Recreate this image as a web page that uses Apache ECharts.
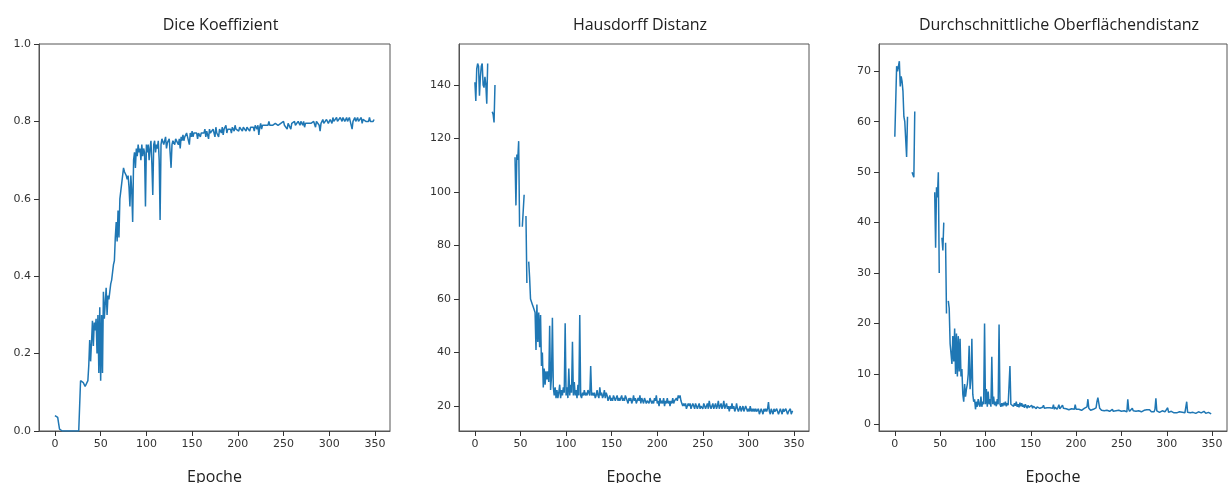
<!DOCTYPE html>
<html>
<head>
<meta charset="utf-8">
<script src="https://cdn.jsdelivr.net/npm/echarts@6/dist/echarts.min.js"></script>
<style>
html,body{margin:0;padding:0;background:#fff;}
#chart{width:1228px;height:483px;}
</style>
</head>
<body>
<div id="chart"></div>
<script>
const titles = ["Dice Koeffizient", "Hausdorff Distanz", "Durchschnittliche Oberflächendistanz"];
const xAxisName = "Epoche";
const xTicks = [0, 50, 100, 150, 200, 250, 300, 350];
const diceTicks = [0, 0.2, 0.4, 0.6, 0.8, 1.0];
const hdTicks = [20, 40, 60, 80, 100, 120, 140];
const asdTicks = [0, 10, 20, 30, 40, 50, 60, 70];

const dice = [
0.04,0.04,0.039,0.035,0.02,0.005,0,0,0,0,
0,0,0,0,0,0,0,0,0,0,
0,0,0,0,0,0,0,0,0.13,0.135,
0.13,0.125,0.12,0.115,0.12,0.112,0.13,0.17,0.235,0.18,
0.23,0.285,0.22,0.28,0.26,0.29,0.2,0.3,0.15,0.32,
0.13,0.3,0.15,0.36,0.29,0.33,0.37,0.3,0.35,0.34,
0.36,0.38,0.39,0.41,0.43,0.44,0.5,0.54,0.49,0.57,
0.5,0.6,0.62,0.64,0.66,0.68,0.67,0.665,0.66,0.65,
0.66,0.63,0.58,0.66,0.62,0.54,0.7,0.72,0.68,0.73,
0.71,0.74,0.72,0.73,0.7,0.74,0.71,0.73,0.72,0.58,
0.74,0.72,0.74,0.7,0.73,0.75,0.69,0.61,0.74,0.75,
0.72,0.74,0.73,0.75,0.7,0.545,0.74,0.755,0.76,0.74,
0.75,0.76,0.73,0.745,0.74,0.755,0.75,0.68,0.74,0.75,
0.745,0.74,0.755,0.75,0.76,0.74,0.755,0.73,0.76,0.75,
0.765,0.75,0.76,0.755,0.77,0.76,0.765,0.74,0.77,0.76,
0.775,0.76,0.77,0.765,0.775,0.77,0.755,0.77,0.775,0.76,
0.77,0.775,0.765,0.77,0.78,0.76,0.775,0.77,0.755,0.78,
0.77,0.765,0.775,0.78,0.77,0.76,0.785,0.77,0.775,0.76,
0.78,0.775,0.77,0.785,0.765,0.78,0.775,0.79,0.77,0.78,
0.775,0.785,0.78,0.77,0.785,0.78,0.775,0.79,0.78,0.785,
0.78,0.775,0.785,0.79,0.78,0.775,0.785,0.78,0.79,0.775,
0.785,0.78,0.79,0.775,0.785,0.79,0.78,0.785,0.775,0.79,
0.785,0.78,0.79,0.765,0.785,0.795,0.78,0.79,0.785,0.795,
0.79,0.785,0.795,0.79,0.8,0.79,0.795,0.785,0.79,0.795,
0.79,0.795,0.79,0.8,0.79,0.795,0.785,0.795,0.79,0.795,
0.8,0.79,0.795,0.79,0.78,0.795,0.79,0.8,0.78,0.795,
0.79,0.795,0.8,0.79,0.795,0.785,0.8,0.795,0.79,0.8,
0.795,0.79,0.8,0.785,0.795,0.8,0.79,0.795,0.8,0.79,
0.795,0.8,0.79,0.8,0.795,0.785,0.8,0.795,0.805,0.79,
0.775,0.795,0.8,0.805,0.795,0.8,0.79,0.805,0.8,0.795,
0.8,0.805,0.8,0.795,0.81,0.8,0.805,0.8,0.81,0.8,
0.805,0.8,0.81,0.805,0.8,0.81,0.805,0.8,0.805,0.81,
0.8,0.805,0.81,0.8,0.805,0.78,0.8,0.805,0.81,0.8,
0.805,0.81,0.8,0.805,0.8,0.81,0.795,0.805,0.8,0.805,
0.8,0.795,0.805,0.8,0.81,0.8,0.795,0.805,0.8,0.805
];

const hausdorff = [
141,134,146,148,147,136,143,147,148,140,
139,143,140,133,148,null,null,null,null,130,
129,126,140,null,null,null,null,null,null,null,
null,null,null,null,null,null,null,null,null,null,
null,null,null,null,113,95,114,112,119,87,
null,null,87,93,99,null,91,66,null,74,
68,60,59,58,57,56,55,41,58,44,
55,42,54,35,40,27,34,28,33,30,
33,29,50,26,31,53,27,24,27,23,
26,23,25,28,23,26,24,27,25,51,
24,27,23,34,24,28,25,44,24,29,
24,26,23,28,24,54,24,23,25,24,
26,24,25,24,26,25,24,35,24,25,
24,25,23,24,26,24,23,27,24,25,
23,24,26,23,25,24,22,23,24,22,
23,22,24,23,22,23,24,22,23,22,
23,24,22,23,22,24,23,22,21,23,
22,23,21,22,24,22,23,21,22,23,
22,24,21,23,22,21,23,22,21,22,
22,21,23,22,21,22,21,23,22,24,
21,22,20,23,21,22,21,23,20,22,
21,23,21,22,20,22,21,23,21,22,
22,23,22,24,23,24,22,21,20,21,
20,21,19,20,21,20,21,19,20,21,
20,19,21,20,19,20,21,19,20,20,
19,21,20,19,20,21,19,22,20,19,
20,21,19,20,21,19,20,22,19,20,
21,19,20,22,19,20,21,19,20,18,
20,19,21,19,20,18,19,21,19,18,
19,20,18,19,20,18,19,20,19,18,
19,18,20,18,19,18,19,18,19,18,
18,19,17,18,19,18,17,19,18,19,
18,19,21.5,18,17,19,18,17,19,18,
18,19,18,17,18,19,18,17,19,18,
18,19,18,17,18,18,19,17,18,18
];

const asd = [
57,64,71,70,71,72,67,69,68,66,
61,60,60,53,61,null,null,null,null,50,
49.5,49,62,null,null,null,null,null,null,null,
null,null,null,null,null,null,null,null,null,null,
null,null,null,null,46,35,47,45,50,30,
null,null,37,34.5,40,null,36,22,null,24.5,
23,16,14,12,17.5,12.5,19,10,18,9.5,
17.5,10.5,17,9.5,11,6,4.5,8,5.5,7,
8,10,15.6,7,9,17,6,4.5,5,3,
4.5,3.5,5,4,3.5,5.5,3.5,4.5,4,20,
4,7,3.5,6.5,4,5,3.5,13.4,4,5.5,
3.8,4.5,3.6,5,4,19.8,4,3.5,4.2,3.6,
4.3,3.8,4.5,3.6,4.2,3.8,4,11.6,4,3.7,
4,3.6,4.2,3.7,4.5,3.5,4,3.4,4.3,3.6,
4.2,3.5,3.9,3.3,4,3.6,3.2,3.8,3.4,3.6,
3.3,3.8,3.2,3.6,3.4,3.9,3.1,3.5,3.3,3.7,
3.2,3.5,3.1,3.4,3.8,3.2,3.4,3,3.3,3.6,
3.1,3.3,3,3.5,3.2,3.9,3,3.4,3.2,3,
3.4,3.9,3.1,3.3,3,3.8,3.2,3,3.4,3.1,
3,3.3,2.9,3.2,3,3.1,2.8,3.3,3,3.9,
3,2.8,3.2,3,2.9,3.3,2.8,3.1,2.9,3.2,
2.9,3.2,3.5,5,3.2,3,2.8,3.1,2.9,3,
2.8,3.1,3.3,4.5,5.3,5.5,3.2,3,2.8,2.9,
3,2.7,2.9,2.6,2.8,3,2.7,2.6,2.9,2.7,
3,2.6,2.8,2.5,2.7,2.9,2.6,2.8,2.5,2.7,
2.6,2.8,2.5,2.7,2.6,2.9,2.5,5,3,2.6,
2.8,2.5,3.2,2.7,2.5,2.9,2.6,2.8,2.5,2.7,
2.6,2.9,2.5,2.7,2.6,2.8,3,2.5,2.9,2.6,
2.7,2.9,2.6,2.5,2.8,2.6,2.5,3,5.2,2.7,
2.5,2.6,2.4,2.6,2.5,2.7,2.4,2.6,2.5,2.4,
2.6,3.3,2.4,2.5,2.3,2.6,2.4,2.5,2.3,2.4,
2.5,2.3,2.4,2.2,2.5,2.3,2.2,2.4,2.3,2.5,
2.3,2.5,4.5,2.4,2.2,2.5,2.3,2.4,2.2,2.4,
2.3,2.5,2.2,2.4,2.3,2.5,2.2,2.4,2.3,2.2,
2.4,2.6,2.3,2.2,2.5,2.3,2.4,2.2,2.3,2.1
];

const epochs = dice.map((_, i) => i);
const pairs = arr => arr.map((v, i) => [epochs[i], v]);

const LINE = '#1f77b4';
const TXT = '#333';
const FRAME = '#555';
const TICKFONT = 'DejaVu Sans';
const TITLEFONT = 'Open Sans';

const grids = [
  {left: 39, top: 44, width: 351, height: 387},
  {left: 459, top: 44, width: 350, height: 387},
  {left: 879, top: 44, width: 348, height: 387}
];
const yRanges = [[0, 1], [10.7, 155.3], [-1.3, 75.4]];
const yTickSets = [diceTicks, hdTicks, asdTicks];
const yFmt = [v => v.toFixed(1), v => String(v), v => String(v)];
const seriesData = [dice, hausdorff, asd];

const option = {
  animation: false,
  backgroundColor: '#fff',
  title: grids.map((g, i) => ({
    text: titles[i],
    left: g.left + g.width / 2 + 1,
    top: 12,
    textAlign: 'center',
    textStyle: {fontFamily: TITLEFONT, fontSize: 16, fontWeight: 'normal', color: '#222'}
  })),
  grid: grids.map(g => Object.assign({
    show: true, borderColor: FRAME, borderWidth: 1, backgroundColor: 'transparent',
    containLabel: false, outerBoundsMode: 'none'
  }, g)),
  xAxis: grids.map((g, i) => ({
    type: 'value', gridIndex: i, min: -17.45, max: 366.45,
    name: xAxisName, nameLocation: 'middle', nameGap: 38,
    nameTextStyle: {fontFamily: TITLEFONT, fontSize: 16, color: '#222'},
    axisLine: {show: true, onZero: false, lineStyle: {color: FRAME, width: 1}},
    splitLine: {show: false},
    axisTick: {show: true, inside: false, length: 5, lineStyle: {color: TXT, width: 1}, customValues: xTicks},
    axisLabel: {fontFamily: TICKFONT, fontSize: 11, color: TXT, margin: 8, customValues: xTicks}
  })),
  yAxis: grids.map((g, i) => ({
    type: 'value', gridIndex: i, min: yRanges[i][0], max: yRanges[i][1],
    axisLine: {show: true, onZero: false, lineStyle: {color: FRAME, width: 1}},
    splitLine: {show: false},
    axisTick: {show: true, inside: false, length: 5, lineStyle: {color: TXT, width: 1}, customValues: yTickSets[i]},
    axisLabel: {fontFamily: TICKFONT, fontSize: 11, color: TXT, margin: 8, customValues: yTickSets[i], formatter: yFmt[i]}
  })),
  series: seriesData.map((d, i) => ({
    type: 'line', xAxisIndex: i, yAxisIndex: i,
    data: pairs(d), showSymbol: false, connectNulls: false,
    lineStyle: {color: LINE, width: 1.5}, itemStyle: {color: LINE},
    clip: true
  }))
};

const chart = echarts.init(document.getElementById('chart'), null, {renderer: 'canvas'});
chart.setOption(option);
</script>
</body>
</html>
